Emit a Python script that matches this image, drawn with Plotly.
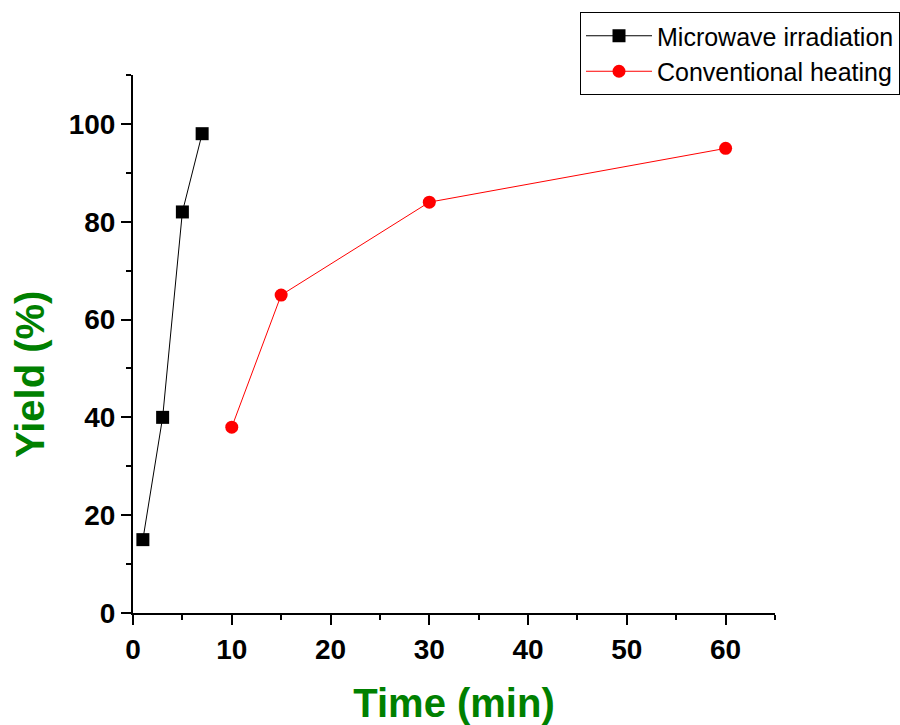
import plotly.graph_objects as go

mw_time = [1, 3, 5, 7]
mw_yield = [15, 40, 82, 98]
ch_time = [10, 15, 30, 60]
ch_yield = [38, 65, 84, 95]

fig = go.Figure()
fig.add_trace(go.Scatter(x=mw_time, y=mw_yield, mode="lines+markers", name="Microwave irradiation",
                         line=dict(color="black", width=1),
                         marker=dict(symbol="square", size=13, color="black")))
fig.add_trace(go.Scatter(x=ch_time, y=ch_yield, mode="lines+markers", name="Conventional heating",
                         line=dict(color="red", width=1),
                         marker=dict(symbol="circle", size=13, color="red")))

axis_common = dict(showline=True, linecolor="black", linewidth=2, ticks="outside", ticklen=10,
                   tickwidth=2, tickcolor="black", showgrid=False, zeroline=False,
                   tickfont=dict(family="Arial, Liberation Sans", size=28, color="black", weight="bold"))
minor = dict(ticklen=5, tickwidth=2, tickcolor="black", ticks="outside", showgrid=False)
fig.update_xaxes(range=[0, 65], dtick=10, tick0=0,
                 minor=dict(dtick=5, **minor),
                 title=dict(text="Time (min)", font=dict(family="Arial, Liberation Sans", size=40, color="green", weight="bold"), standoff=26),
                 **axis_common)
fig.update_yaxes(range=[0, 110], dtick=20, tick0=0,
                 minor=dict(dtick=10, **minor),
                 **axis_common)

fig.add_annotation(text="Yield (%)", textangle=-90, xref="paper", yref="paper",
                   x=(30 - 133) / 642, y=(613 - 375) / 538, xanchor="center", yanchor="middle",
                   showarrow=False,
                   font=dict(family="Arial, Liberation Sans", size=40, color="green", weight="bold"))

fig.update_layout(width=900, height=725, plot_bgcolor="white", paper_bgcolor="white",
                  margin=dict(l=133, r=125, t=75, b=112, autoexpand=False),
                  legend=dict(x=(580 - 133) / 642, y=(613 - 12) / 538, xanchor="left", yanchor="top",
                              bordercolor="black", borderwidth=1, bgcolor="white",
                              font=dict(family="Arial, Liberation Sans", size=25, color="black"),
                              tracegroupgap=0, itemwidth=66))
fig.write_html("out.html")
